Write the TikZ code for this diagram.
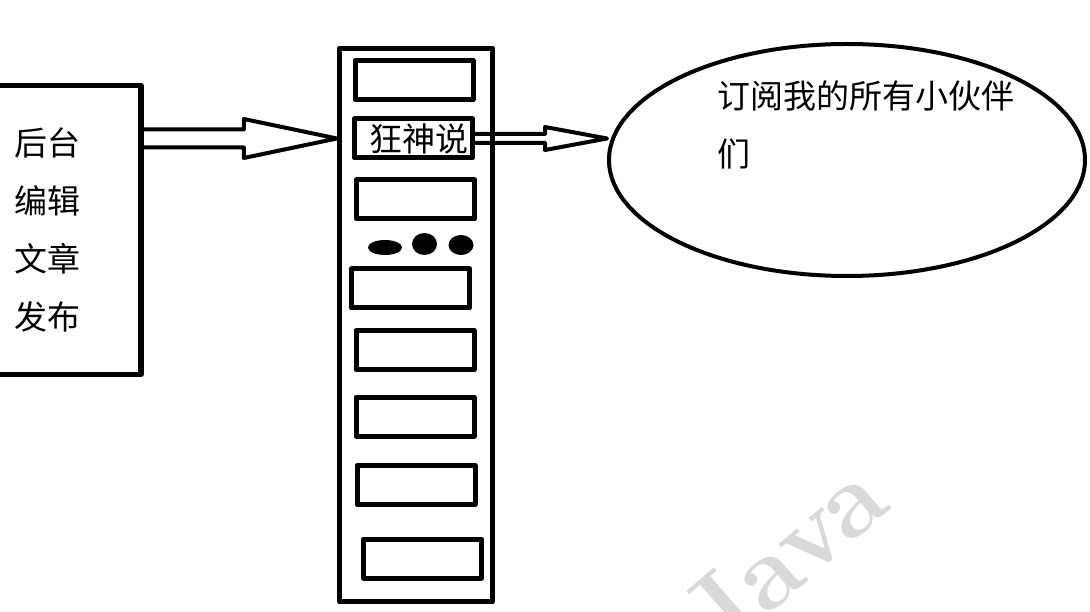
\documentclass[tikz,border=0pt]{standalone}
\usepackage{fontspec}
\newfontfamily\cjk{Noto Sans CJK SC}
\usetikzlibrary{shapes.geometric,calc}
\tikzset{
	slot/.style={draw, line width=5pt, minimum width=118pt, minimum height=39pt, inner sep=0pt},
	hollow/.style={line width=4pt, line join=round},
}
% hohler Pfeil: von, nach, halbe Schaftbreite, halbe Spitzenbreite, Spitzenlaenge
\newcommand{\hollowarrow}[5]{%
	\draw[hollow] let \p1=(#1), \p2=(#2) in
	(\x1,\y2+#3) -- (\x2-#5,\y2+#3) -- (\x2-#5,\y2+#4) -- (\x2,\y2)
	-- (\x2-#5,\y2-#4) -- (\x2-#5,\y2-#3) -- (\x1,\y2-#3);}
\begin{document}
\begin{tikzpicture}[x=1pt, y=-1pt, font=\cjk\fontsize{33}{58}\selectfont, line join=round, line cap=round]
	\useasboundingbox (0,0) rectangle (1090,612);
	\node[text=black!15, rotate=41, font=\rmfamily\bfseries\fontsize{105}{105}\selectfont] (wm) at (783,556) {Java};
	\node[draw, line width=5.5pt, minimum height=289pt, text width=103pt, inner xsep=24pt, align=left] (edit) at (65.5,230) {后台\\编辑\\文章\\发布};
	\node[draw, line width=5.3pt, minimum width=153pt, minimum height=553pt, inner sep=0pt] (rack) at (416,325) {};
	\foreach \x/\y [count=\i] in {414/80, 415.5/199.5, 410.5/288.5, 415/350, 415/416.5, 416/485, 422.5/558.5}
		\node[slot] (slot\i) at (\x,\y) {};
	\node[slot, text width=110pt, inner xsep=4pt, align=right] (kss) at (413.5,138.5) {狂神说};
	\fill (385,247.5) ellipse [x radius=17pt, y radius=7.5pt]
		(424.5,244) ellipse [x radius=12.5pt, y radius=11pt]
		(461,245) ellipse [x radius=12.5pt, y radius=10pt];
	\node[draw, ellipse, line width=4pt, minimum width=476pt, minimum height=232pt, inner sep=0pt] (fans) at (847,160) {};
	\node[anchor=north west, align=left, inner sep=0pt] (fanstxt) at (717,80) {订阅我的所有小伙伴\\们};
	\hollowarrow{edit.east |- kss.west}{rack.west |- kss.west}{9pt}{19.5pt}{93pt}
	\hollowarrow{kss.east}{fans.west |- kss.east}{4.5pt}{11.5pt}{62pt}
\end{tikzpicture}
\end{document}
